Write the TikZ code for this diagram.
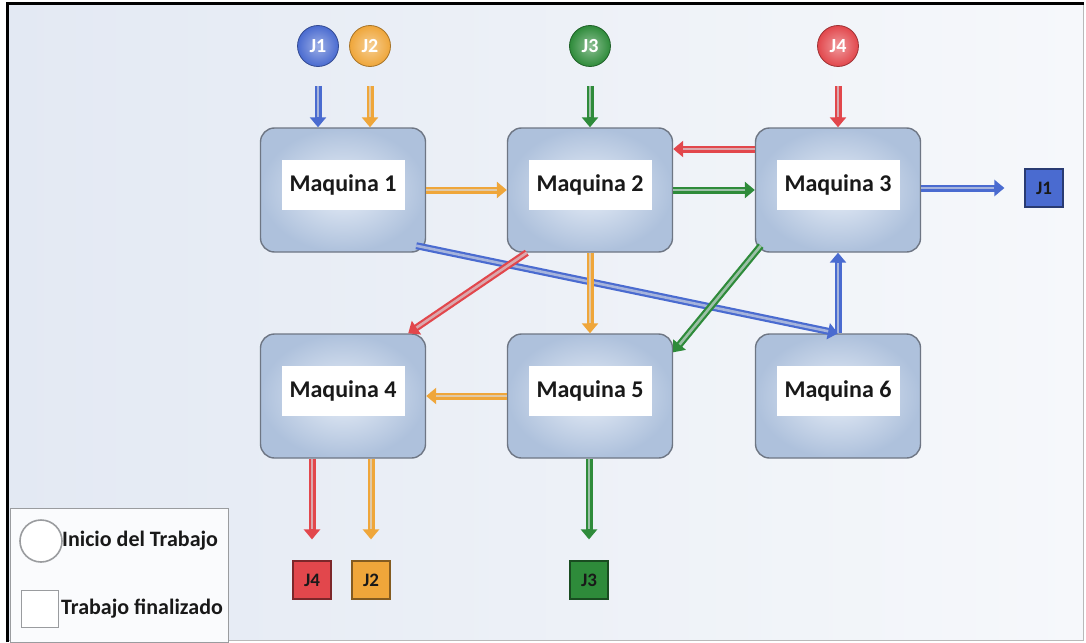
\documentclass[tikz,border=0pt]{standalone}
\usepackage{fontspec}
\setmainfont{Carlito}
\usetikzlibrary{arrows.meta}

\definecolor{jblue}{HTML}{4A6BD0}
\definecolor{jorange}{HTML}{EFA63A}
\definecolor{jgreen}{HTML}{2E8B3A}
\definecolor{jred}{HTML}{E2474C}
\definecolor{boxin}{HTML}{E6EDF7}
\definecolor{boxout}{HTML}{AEC1DC}
\definecolor{boxedge}{HTML}{6E7684}
\definecolor{bgA}{HTML}{E3E9F3}
\definecolor{bgB}{HTML}{F6F8FB}
\definecolor{flowcore}{HTML}{D8DCE2}
\definecolor{legendgray}{HTML}{9A9C9F}

\tikzset{
  machine/.style={draw=boxedge, line width=1.4pt, rounded corners=14pt,
    minimum width=165pt, minimum height=124pt, inner sep=0pt,
    inner color=boxin, outer color=boxout},
  mlabel/.style={fill=white, minimum width=123pt, minimum height=50pt,
    inner sep=0pt, font=\fontsize{24}{26}\selectfont\bfseries, text=black!90},
  startjob/.style={circle, minimum size=41pt, inner sep=0pt,
    draw=#1!70!black, line width=0.8pt, inner color=#1!55!white,
    outer color=#1, text=white, font=\fontsize{20}{20}\selectfont\bfseries},
  endjob/.style={rectangle, minimum size=38pt, inner sep=0pt,
    fill=#1, draw=#1!55!black, line width=1.2pt,
    text=black!90, font=\fontsize{19}{19}\selectfont\bfseries},
  flow/.style={draw=#1, line width=7pt,
    -{Triangle[width=16pt,length=10pt]},
    postaction={draw=#1!35!flowcore, line width=2.6pt, -, shorten >=10pt}},
  legendtext/.style={anchor=west, inner sep=0pt,
    font=\fontsize{22}{24}\selectfont\bfseries, text=black!90},
}

\begin{document}
\begin{tikzpicture}[x=1pt, y=-1pt]
  \useasboundingbox (0,0) rectangle (1086,642);
  \fill[white] (0,0) rectangle (1086,642);
  % background panel and its frame
  \shade[left color=bgA, right color=bgB] (8,4) rectangle (1083,640);
  \draw[gray!55, line width=1.5pt] (1083.5,3) -- (1083.5,640.5) -- (7,640.5);
  \draw[black, line width=2.6pt] (7.5,642) -- (7.5,3.5) -- (1084,3.5);

  % machines
  \node[machine] (m1) at (343,190) {};
  \node[machine] (m2) at (590,190) {};
  \node[machine] (m3) at (838,190) {};
  \node[machine] (m4) at (343,396) {};
  \node[machine] (m5) at (590,396) {};
  \node[machine] (m6) at (838,396) {};
  \foreach \i in {1,...,6}
    \node[mlabel] (l\i) at ([yshift=5pt]m\i.center) {Maquina \i};

  % job start points
  \node[startjob=jblue]   (s1) at (318,46) {J1};
  \node[startjob=jorange] (s2) at (370,46) {J2};
  \node[startjob=jgreen]  (s3) at (590,46) {J3};
  \node[startjob=jred]    (s4) at (838,46) {J4};

  % finished jobs
  \node[endjob=jblue]   (e1) at (1044,188) {J1};
  \node[endjob=jorange] (e2) at (371,580) {J2};
  \node[endjob=jgreen]  (e3) at (589,580) {J3};
  \node[endjob=jred]    (e4) at (312,580) {J4};

  % jobs entering the shop
  \draw[flow=jblue]   ([yshift=-19pt]s1.south) -- (s1 |- m1.north);
  \draw[flow=jorange] ([yshift=-19pt]s2.south) -- (s2 |- m1.north);
  \draw[flow=jgreen]  ([yshift=-19pt]s3.south) -- (s3 |- m2.north);
  \draw[flow=jred]    ([yshift=-19pt]s4.south) -- (s4 |- m3.north);

  % routes between machines
  \draw[flow=jorange] (m1.east) -- (m2.west);
  \draw[flow=jgreen]  (m2.east) -- (m3.west);
  \draw[flow=jred]    ([yshift=41pt]m3.west) -- ([yshift=41pt]m2.east);
  \draw[flow=jblue]   ([xshift=-10pt,yshift=7pt]m1.south east) -- (m6.north);
  \draw[flow=jred]    ([xshift=20pt]m2.south west) -- ([xshift=-18pt]m4.north east);
  \draw[flow=jorange] (m2.south) -- (m5.north);
  \draw[flow=jgreen]  ([xshift=6pt,yshift=7pt]m3.south west) -- ([yshift=-19pt]m5.north east);
  \draw[flow=jblue]   (m6.north) -- (m3.south);
  \draw[flow=jorange] (m5.west) -- (m4.east);

  % jobs leaving the shop
  \draw[flow=jblue]   (m3.east |- e1) -- ([xshift=-20pt]e1.west);
  \draw[flow=jred]    (e4 |- m4.south) -- ([yshift=21pt]e4.north);
  \draw[flow=jorange] (e2 |- m4.south) -- ([yshift=21pt]e2.north);
  \draw[flow=jgreen]  (e3 |- m5.south) -- ([yshift=21pt]e3.north);

  % legend
  \node[draw=legendgray, line width=1.2pt, fill=bgB!60!white,
        minimum width=218pt, minimum height=134pt, anchor=north west,
        inner sep=0pt] (legend) at (10,508) {};
  \node[circle, draw=legendgray, line width=1.6pt, fill=white,
        minimum size=42pt, inner sep=0pt] (lcirc) at (41,541) {};
  \node[legendtext] (ltxt1) at (62,541) {Inicio del Trabajo};
  \node[draw=legendgray, line width=1.6pt, fill=white,
        minimum size=37pt, inner sep=0pt] (lsq) at (40,609) {};
  \node[legendtext] (ltxt2) at (61,609) {Trabajo finalizado};
\end{tikzpicture}
\end{document}
